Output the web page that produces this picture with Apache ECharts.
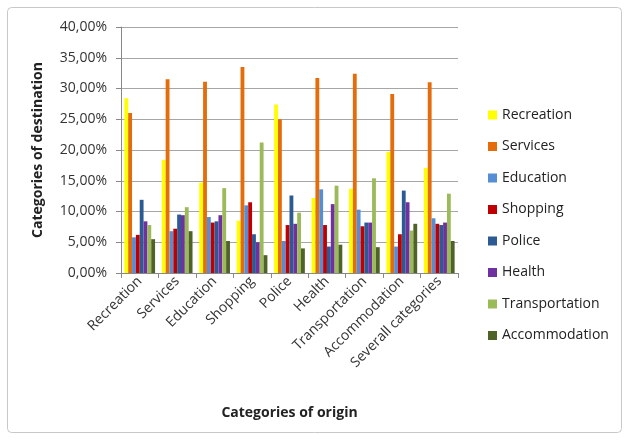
<!DOCTYPE html>
<html><head><meta charset="utf-8">
<script src="https://cdn.jsdelivr.net/npm/echarts@6/dist/echarts.min.js"></script>
<style>html,body{margin:0;padding:0;background:#fff}#c{width:629px;height:441px}</style>
</head><body><div id="c"></div>
<script>
const categories = ['Recreation','Services','Education','Shopping','Police','Health','Transportation','Accommodation','Severall categories'];
const seriesNames = ['Recreation','Services','Education','Shopping','Police','Health','Transportation','Accommodation'];
const recreation     = [28.4, 18.4, 14.7,  8.5, 27.4, 12.2, 13.7, 19.7, 17.1];
const services       = [26.0, 31.5, 31.1, 33.5, 25.0, 31.7, 32.4, 29.1, 31.0];
const education      = [ 5.8,  6.8,  9.1, 11.0,  5.2, 13.6, 10.3,  4.3,  8.9];
const shopping       = [ 6.2,  7.2,  8.2, 11.5,  7.8,  7.8,  7.6,  6.3,  8.0];
const police         = [11.9,  9.5,  8.4,  6.3, 12.6,  4.3,  8.2, 13.4,  7.8];
const health         = [ 8.4,  9.4,  9.4,  5.0,  8.0, 11.2,  8.2, 11.5,  8.2];
const transportation = [ 7.8, 10.7, 13.8, 21.2,  9.8, 14.2, 15.4,  6.9, 12.9];
const accommodation  = [ 5.5,  6.8,  5.2,  2.9,  4.0,  4.6,  4.2,  8.0,  5.2];
const yTicks = [0,5,10,15,20,25,30,35,40];
const colors = ['#FFFF00','#E46C0A','#558ED5','#C00000','#2C5A93','#7030A0','#9BBB59','#4F6228'];
const values = [recreation, services, education, shopping, police, health, transportation, accommodation];

const font = 'Open Sans, Liberation Sans, sans-serif';
const chart = echarts.init(document.getElementById('c'), null, {renderer:'canvas'});
chart.setOption({
  animation:false,
  color: colors,
  graphic:[{type:'rect',shape:{x:7.5,y:7.5,width:614,height:425,r:4},style:{fill:'none',stroke:'#c8c8c8',lineWidth:1},z:-1}],
  grid:{left:121,right:171,top:27,bottom:168,containLabel:false},
  legend:{
    orient:'vertical', left:483, top:103, itemWidth:9, itemHeight:9, itemGap:17.5,
    icon:'rect', data: seriesNames,
    textStyle:{fontFamily:font,fontSize:14,color:'#222'}
  },
  xAxis:{
    type:'category', data:categories,
    name:'Categories of origin', nameLocation:'middle', nameGap:133,
    nameTextStyle:{fontFamily:font,fontSize:14,fontWeight:'bold',color:'#222'},
    axisLine:{lineStyle:{color:'#888'}},
    axisTick:{show:true,lineStyle:{color:'#888'}},
    axisLabel:{interval:0,rotate:45,fontFamily:font,fontSize:14,color:'#333',margin:6}
  },
  yAxis:{
    type:'value', min:yTicks[0], max:yTicks[yTicks.length-1], interval:5,
    name:'Categories of destination', nameLocation:'middle', nameGap:76, nameRotate:90,
    nameTextStyle:{fontFamily:font,fontSize:14,fontWeight:'bold',color:'#222'},
    axisLine:{show:true,lineStyle:{color:'#888'}},
    axisTick:{show:true,length:5,lineStyle:{color:'#888'}},
    splitLine:{lineStyle:{color:'#a6a6a6',width:1}},
    axisLabel:{fontFamily:font,fontSize:14,color:'#333',margin:14,
      formatter:v=>v.toFixed(2).replace('.',',')+'%'}
  },
  series: seriesNames.map((n,i)=>({
    name:n, type:'bar', data:values[i], barGap:'0%', barCategoryGap:'18%',
    itemStyle:{color:colors[i]}
  }))
});
</script></body></html>
